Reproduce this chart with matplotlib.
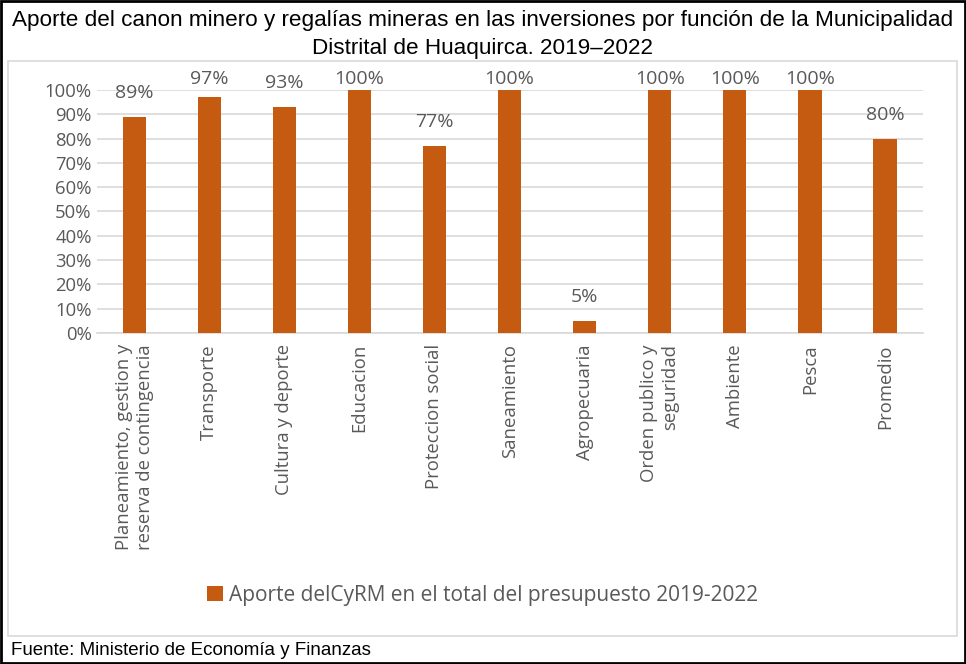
# Aporte del CyRM por función - Huaquirca 2019-2022
import matplotlib.pyplot as plt
from matplotlib.patches import Rectangle

categorias = ['Planeamiento, gestion y\nreserva de contingencia', 'Transporte',
              'Cultura y deporte', 'Educacion', 'Proteccion social', 'Saneamiento',
              'Agropecuaria', 'Orden publico y\nseguridad', 'Ambiente', 'Pesca', 'Promedio']
aporte = [89, 97, 93, 100, 77, 100, 5, 100, 100, 100, 80]  # %

titulo = ('Aporte del canon minero y regalías mineras en las inversiones por función de la Municipalidad\n'
          'Distrital de Huaquirca. 2019\u20132022')
serie = 'Aporte delCyRM en el total del presupuesto 2019-2022'
fuente = 'Fuente: Ministerio de Economía y Finanzas'

color_barra = '#C55A11'
gris_txt = '#595959'
titulo_font = ['Liberation Sans', 'DejaVu Sans']
plt.rcParams['font.family'] = ['Open Sans', 'DejaVu Sans']

fig = plt.figure(figsize=(9.66, 6.64), dpi=100)
ax = fig.add_axes([0.100, 0.4985, 0.855, 0.366])

x = list(range(len(categorias)))
bars = ax.bar(x, [v / 100 for v in aporte], width=0.31, color=color_barra, zorder=3)

# etiquetas de datos: encima de la barra, pero sin salir mucho del area (como Excel)
for xi, v in zip(x, aporte):
    y_lab = min(v / 100 + 0.099, 1.045)
    ax.text(xi, y_lab, f'{v}%', ha='center', va='center', fontsize=14,
            color=gris_txt, clip_on=False)

ax.set_ylim(0, 1)
ax.set_xlim(-0.5, len(categorias) - 0.5)
ax.set_yticks([i / 10 for i in range(11)])
ax.set_yticklabels([f'{i * 10}%' for i in range(11)])
ax.set_xticks(x)
ax.set_xticklabels(categorias, rotation=90, ha='center', va='top', multialignment='right')
ax.tick_params(axis='both', length=0, labelsize=13.3, labelcolor=gris_txt)
ax.tick_params(axis='x', pad=8)
ax.grid(axis='y', color='#d9d9d9', linewidth=1.2, zorder=0)
for s in ['left', 'right', 'top']:
    ax.spines[s].set_visible(False)
ax.spines['bottom'].set_color('#d9d9d9')
ax.spines['bottom'].set_linewidth(1.2)

# titulo y fuente
fig.text(0.5, 0.948, titulo, ha='center', va='center', fontsize=16.2,
         family=titulo_font, linespacing=1.45)
fig.text(0.011, 0.021, fuente, ha='left', va='center', fontsize=13.5,
         family=titulo_font)

# leyenda
fig.legend([bars], [serie], loc='center', bbox_to_anchor=(0.5, 1 - 595 / 664),
           frameon=False, fontsize=15, labelcolor=gris_txt, handlelength=0.75,
           handleheight=0.75, handletextpad=0.3)

# marcos
fig.add_artist(Rectangle((8 / 966, 1 - 636 / 664), 949 / 966, 575 / 664,
                         transform=fig.transFigure, fill=False, edgecolor='#d9d9d9', lw=1.2))
fig.add_artist(Rectangle((0.001, 0.0015), 0.998, 0.997, transform=fig.transFigure,
                         fill=False, edgecolor='black', lw=2))

fig.savefig('out.png', dpi=100)
